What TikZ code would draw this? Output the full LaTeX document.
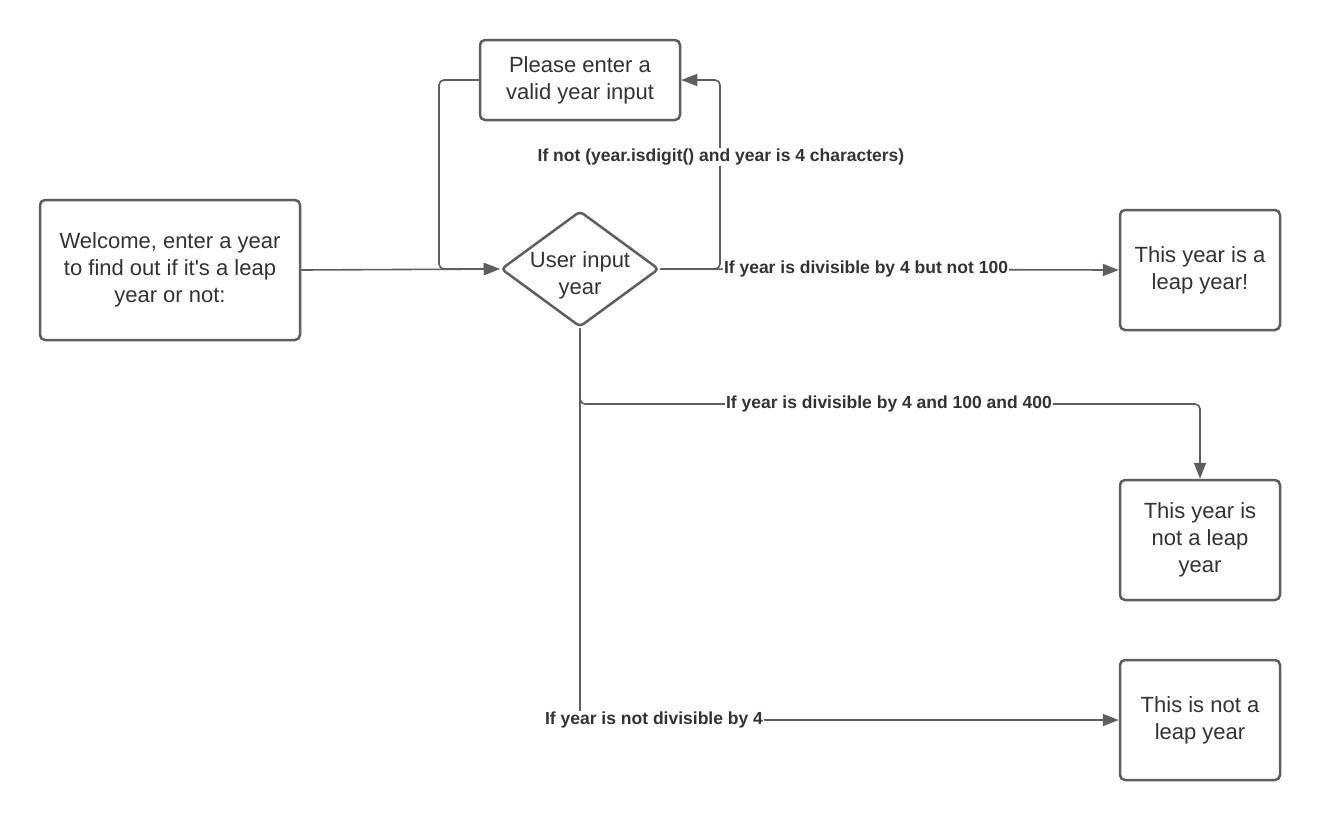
\documentclass[tikz,border=0pt]{standalone}
\usepackage{fontspec}
\setmainfont{Liberation Sans}[Ligatures=TeXOff]
\usetikzlibrary{arrows.meta,shapes.geometric}
\definecolor{ln}{HTML}{5E5E5E}
\definecolor{tx}{HTML}{333333}
\begin{document}
\begin{tikzpicture}[x=1pt,y=-1pt,
 box/.style={draw=ln,line width=2.5pt,rounded corners=5pt,align=center,text=tx,font=\fontsize{22}{27}\selectfont,inner sep=0pt},
 dia/.style={diamond,draw=ln,line width=2.5pt,rounded corners=4pt,inner sep=0pt,aspect=1.36},
 txt/.style={align=center,text=tx,font=\fontsize{22}{27}\selectfont,inner sep=0pt},
 conn/.style={draw=ln,line width=1.6pt,rounded corners=5pt,-{Triangle[length=16pt,width=12pt]}},
 lbl/.style={fill=white,font=\bfseries\fontsize{17.5}{19}\selectfont,text=tx,inner sep=1pt}]
\useasboundingbox[fill=white] (0,0) rectangle (1320,820);
\node[box,minimum width=260pt,minimum height=140pt] (w) at (170,270) {Welcome, enter a year\\to find out if it's a leap\\year or not:};
\node[box,minimum width=200pt,minimum height=80pt] (p) at (580,80) {Please enter a\\valid year input};
\node[dia,minimum width=158pt,minimum height=116pt] (d) at (580,269) {};
\node[txt] (dt) at (580,275) {User input\\year};
\node[box,minimum width=160pt,minimum height=120pt] (a) at (1200,270) {This year is a\\leap year!};
\node[box,minimum width=160pt,minimum height=120pt] (b) at (1200,540) {This year is\\not a leap\\year};
\node[box,minimum width=160pt,minimum height=120pt] (c) at (1200,720) {This is not a\\leap year};
\coordinate (lx) at (439,269);
\coordinate (rx) at (720,269);
\coordinate (bt) at (1200,404);
% connectors
\draw[conn] (w.east) -- (d.west);
\draw[conn] (p.west) -| (lx) -- (d.west);
\draw[conn] (d.east) -- (rx) |- (p.east);
\draw[conn] (d.east) -- (a.west);
\draw[conn] (d.south) |- (bt) -- (b.north);
\draw[conn] (d.south) |- (c.west);
% labels
\node[lbl] (l1) at (721,157) {If not (year.isdigit() and year is 4 characters)};
\node[lbl] (l2) at (866,269) {If year is divisible by 4 but not 100};
\node[lbl] (l3) at (889,404) {If year is divisible by 4 and 100 and 400};
\node[lbl] (l4) at (654,720) {If year is not divisible by 4};
\end{tikzpicture}
\end{document}
